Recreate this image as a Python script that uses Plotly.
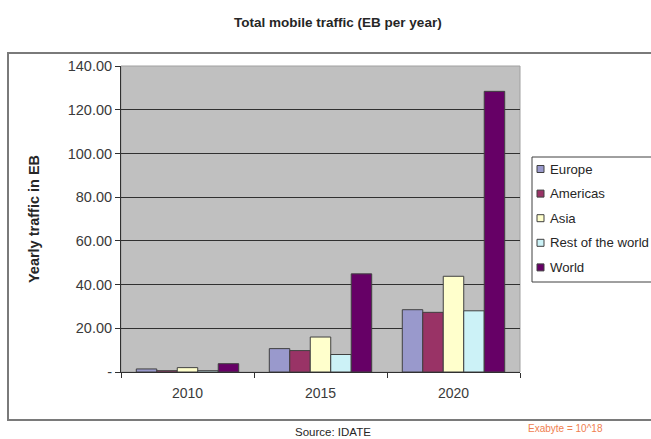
import plotly.graph_objects as go

years = ["2010", "2015", "2020"]
europe = [1.4, 10.7, 28.5]
americas = [0.6, 9.8, 27.3]
asia = [2.0, 16.0, 43.8]
rest_of_world = [0.6, 8.0, 28.0]
world = [3.8, 44.9, 128.4]

series = [
    ("Europe", europe, "#9999CC"),
    ("Americas", americas, "#993366"),
    ("Asia", asia, "#FFFFCC"),
    ("Rest of the world", rest_of_world, "#CCF2F7"),
    ("World", world, "#660066"),
]

y_ticks = [0, 20, 40, 60, 80, 100, 120, 140]
y_tick_text = ["-" if v == 0 else f"{v:.2f}" for v in y_ticks]

FONT = "Liberation Sans, Arial, sans-serif"
TEXT = "#262626"

# plot area in pixels (used to place the frame and the key in paper units)
W, H = 651, 439
L, R, T, B = 121, 131, 66, 67
PW, PH = W - L - R, H - T - B


def px(x):
    return (x - L) / PW


def py(y):
    return (H - B - y) / PH


fig = go.Figure()
for name, vals, color in series:
    fig.add_trace(go.Bar(
        x=years, y=vals, name=name,
        marker=dict(color=color, line=dict(color="#404040", width=1)),
        showlegend=False,
    ))

fig.update_layout(
    width=W, height=H,
    margin=dict(l=L, r=R, t=T, b=B, autoexpand=False),
    paper_bgcolor="white",
    plot_bgcolor="#C0C0C0",
    font=dict(family=FONT, size=14, color=TEXT),
    barmode="group",
    bargap=0.23,
    bargroupgap=0,
    title=dict(text="<b>Total mobile traffic (EB per year)</b>",
               x=0.519, xanchor="center", y=1 - 22 / H, yanchor="middle",
               font=dict(size=13.5, color=TEXT)),
)

fig.update_xaxes(
    type="category", showgrid=False, showline=True, linecolor="#303030", linewidth=1,
    ticks="outside", tickson="boundaries", ticklen=5, tickcolor="#303030",
    tickfont=dict(size=14, color="#3A3A3A"), ticklabelstandoff=8, fixedrange=True,
)
fig.update_yaxes(
    range=[0, 140], tickvals=y_ticks, ticktext=y_tick_text,
    showgrid=True, gridcolor="#303030", gridwidth=1,
    showline=True, linecolor="#303030", linewidth=1,
    ticks="outside", ticklen=5, tickcolor="#303030", zeroline=False,
    tickfont=dict(size=14.5, color="#3A3A3A"), fixedrange=True,
    title=dict(text="<b>Yearly traffic in EB</b>", font=dict(size=14.5), standoff=24),
)

# outer chart frame and plot-area edge
fig.add_shape(type="rect", xref="paper", yref="paper",
              x0=px(8), x1=px(760), y0=py(420), y1=py(53),
              line=dict(color="#7A7A7A", width=2), layer="below")
fig.add_shape(type="rect", xref="paper", yref="paper",
              x0=0, x1=1, y0=0, y1=1,
              line=dict(color="#A0A0A0", width=1), layer="below")

# series key
fig.add_shape(type="rect", xref="paper", yref="paper",
              x0=px(532), x1=px(760), y0=py(282), y1=py(157),
              line=dict(color="#404040", width=1), fillcolor="white")
for i, (name, vals, color) in enumerate(series):
    yc = 169 + i * 24.6
    fig.add_shape(type="rect", xref="paper", yref="paper",
                  x0=px(537), x1=px(544), y0=py(yc + 3.5), y1=py(yc - 3.5),
                  line=dict(color="#404040", width=1), fillcolor=color)
    fig.add_annotation(text=name, xref="paper", yref="paper",
                       x=px(548), y=py(yc), xanchor="left", yanchor="middle",
                       showarrow=False, font=dict(size=13.2, color=TEXT))

fig.add_annotation(text="Source: IDATE", xref="paper", yref="paper",
                   x=px(333), y=py(432), xanchor="center", yanchor="middle",
                   showarrow=False, font=dict(size=11.5, color=TEXT))
fig.add_annotation(text="Exabyte = 10^18", xref="paper", yref="paper",
                   x=px(565), y=py(428), xanchor="center", yanchor="middle",
                   showarrow=False, font=dict(size=10, color="#F08050"))

fig.write_html("out.html")
